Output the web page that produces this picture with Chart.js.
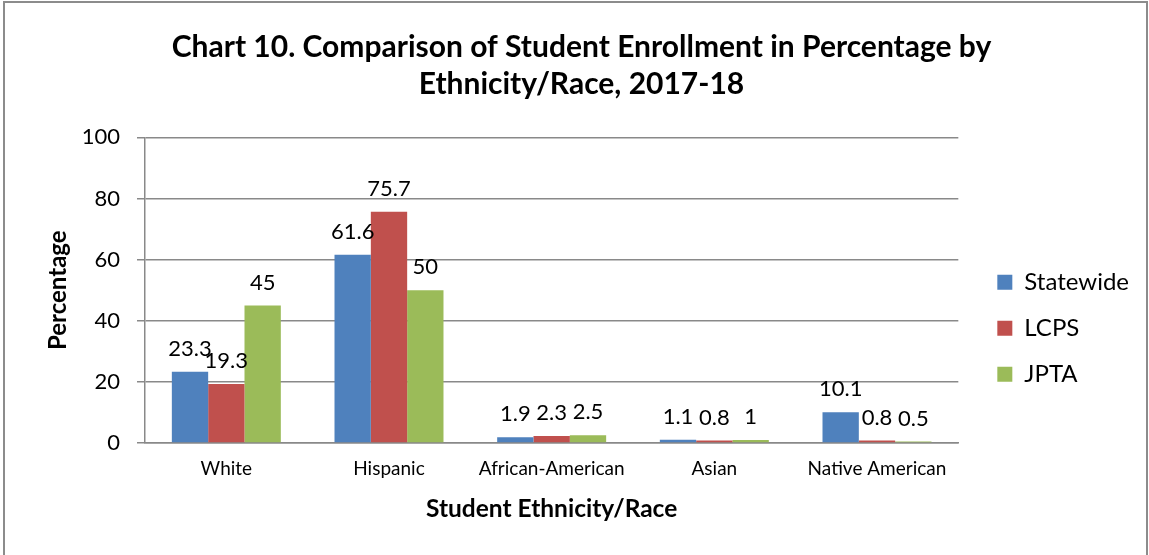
<!DOCTYPE html>
<html>
<head>
<meta charset="utf-8">
<script src="https://cdn.jsdelivr.net/npm/chart.js@4"></script>
<style>
  body{margin:0;background:#fff;}
  #wrap{position:relative;width:1149px;height:555px;overflow:hidden;}
  #frame{position:absolute;left:3px;top:1px;width:1141px;height:600px;border:2px solid #8c8c8c;}
  canvas{position:absolute;left:0;top:0;}
</style>
</head>
<body>
<div id="wrap">
  <div id="frame"></div>
  <canvas id="myChart" width="1149" height="555"></canvas>
</div>
<script>
//カテゴリ
var categories = ['White', 'Hispanic', 'African-American', 'Asian', 'Native American'];
//系列ごとの値
var statewide = [23.3, 61.6, 1.9, 1.1, 10.1];
var lcps = [19.3, 75.7, 2.3, 0.8, 0.8];
var jpta = [45, 50, 2.5, 1, 0.5];
var series_names = ['Statewide', 'LCPS', 'JPTA'];
var y_ticks = [0, 20, 40, 60, 80, 100];

var font_name = 'Lato, "Open Sans", sans-serif';
var grid_color = '#898989';

//棒の上に値を書くプラグイン
var value_labels = {
    id: 'value_labels',
    afterDatasetsDraw: function(chart){
        var ctx = chart.ctx;
        ctx.save();
        ctx.font = '22px ' + font_name;
        ctx.fillStyle = '#000';
        ctx.textAlign = 'center';
        ctx.textBaseline = 'bottom';
        chart.data.datasets.forEach(function(ds, i){
            var meta = chart.getDatasetMeta(i);
            meta.data.forEach(function(bar, j){
                ctx.fillText(String(ds.data[j]), bar.x, bar.y - 12);
            });
        });
        ctx.restore();
    }
};

var data = {
    labels: categories,
    datasets: [
        {label: series_names[0], data: statewide, backgroundColor: '#4F81BD'},
        {label: series_names[1], data: lcps, backgroundColor: '#C0504D'},
        {label: series_names[2], data: jpta, backgroundColor: '#9BBB59'}
    ]
};

var options = {
    responsive: false,
    animation: false,
    maintainAspectRatio: false,
    layout: {padding: {left: 24, right: 10, bottom: 31}},
    datasets: {bar: {categoryPercentage: 0.67, barPercentage: 1.0}},
    plugins: {
        title: {
            display: true,
            text: ['Chart 10. Comparison of Student Enrollment in Percentage by', 'Ethnicity/Race, 2017-18'],
            color: '#000',
            font: {family: font_name, size: 30, weight: 'bold', lineHeight: 1.24},
            padding: {top: 29, bottom: 34}
        },
        legend: {
            position: 'right',
            //凡例を下にずらすための空タイトル
            title: {display: true, text: ' ', font: {size: 12}, padding: {top: 118, bottom: 0}},
            labels: {
                color: '#000',
                boxWidth: 15,
                boxHeight: 15,
                padding: 22,
                font: {family: font_name, size: 24}
            }
        },
        tooltip: {enabled: false}
    },
    scales: {
        x: {
            grid: {display: false},
            border: {display: true, color: grid_color, width: 1.5},
            ticks: {color: '#000', font: {family: font_name, size: 19}, padding: 6},
            title: {
                display: true,
                text: 'Student Ethnicity/Race',
                color: '#000',
                font: {family: font_name, size: 24.5, weight: 'bold'},
                padding: {top: 0, bottom: 0}
            },
            afterFit: function(scale){ scale.height = 81; }
        },
        y: {
            min: 0,
            max: 100,
            afterBuildTicks: function(axis){
                axis.ticks = y_ticks.map(function(v){ return {value: v}; });
            },
            grid: {color: grid_color, lineWidth: 1.5, drawTicks: true, tickLength: 8},
            border: {display: true, color: grid_color, width: 1.5},
            ticks: {color: '#000', font: {family: font_name, size: 22}, padding: 17},
            title: {
                display: true,
                text: 'Percentage',
                color: '#000',
                font: {family: font_name, size: 24, weight: 'bold'},
                padding: {top: 20, bottom: 0}
            },
            afterFit: function(scale){ scale.width = 121; }
        },
        //グラフと凡例の間のすきま用
        gap: {
            type: 'linear',
            position: 'right',
            display: true,
            grid: {display: false},
            border: {display: false},
            ticks: {display: false},
            afterFit: function(scale){ scale.width = 17; }
        }
    }
};

var ctx = document.getElementById('myChart');
var bar_chart = new Chart(ctx, {
    type: 'bar',
    data: data,
    options: options,
    plugins: [value_labels]
});
</script>
</body>
</html>
